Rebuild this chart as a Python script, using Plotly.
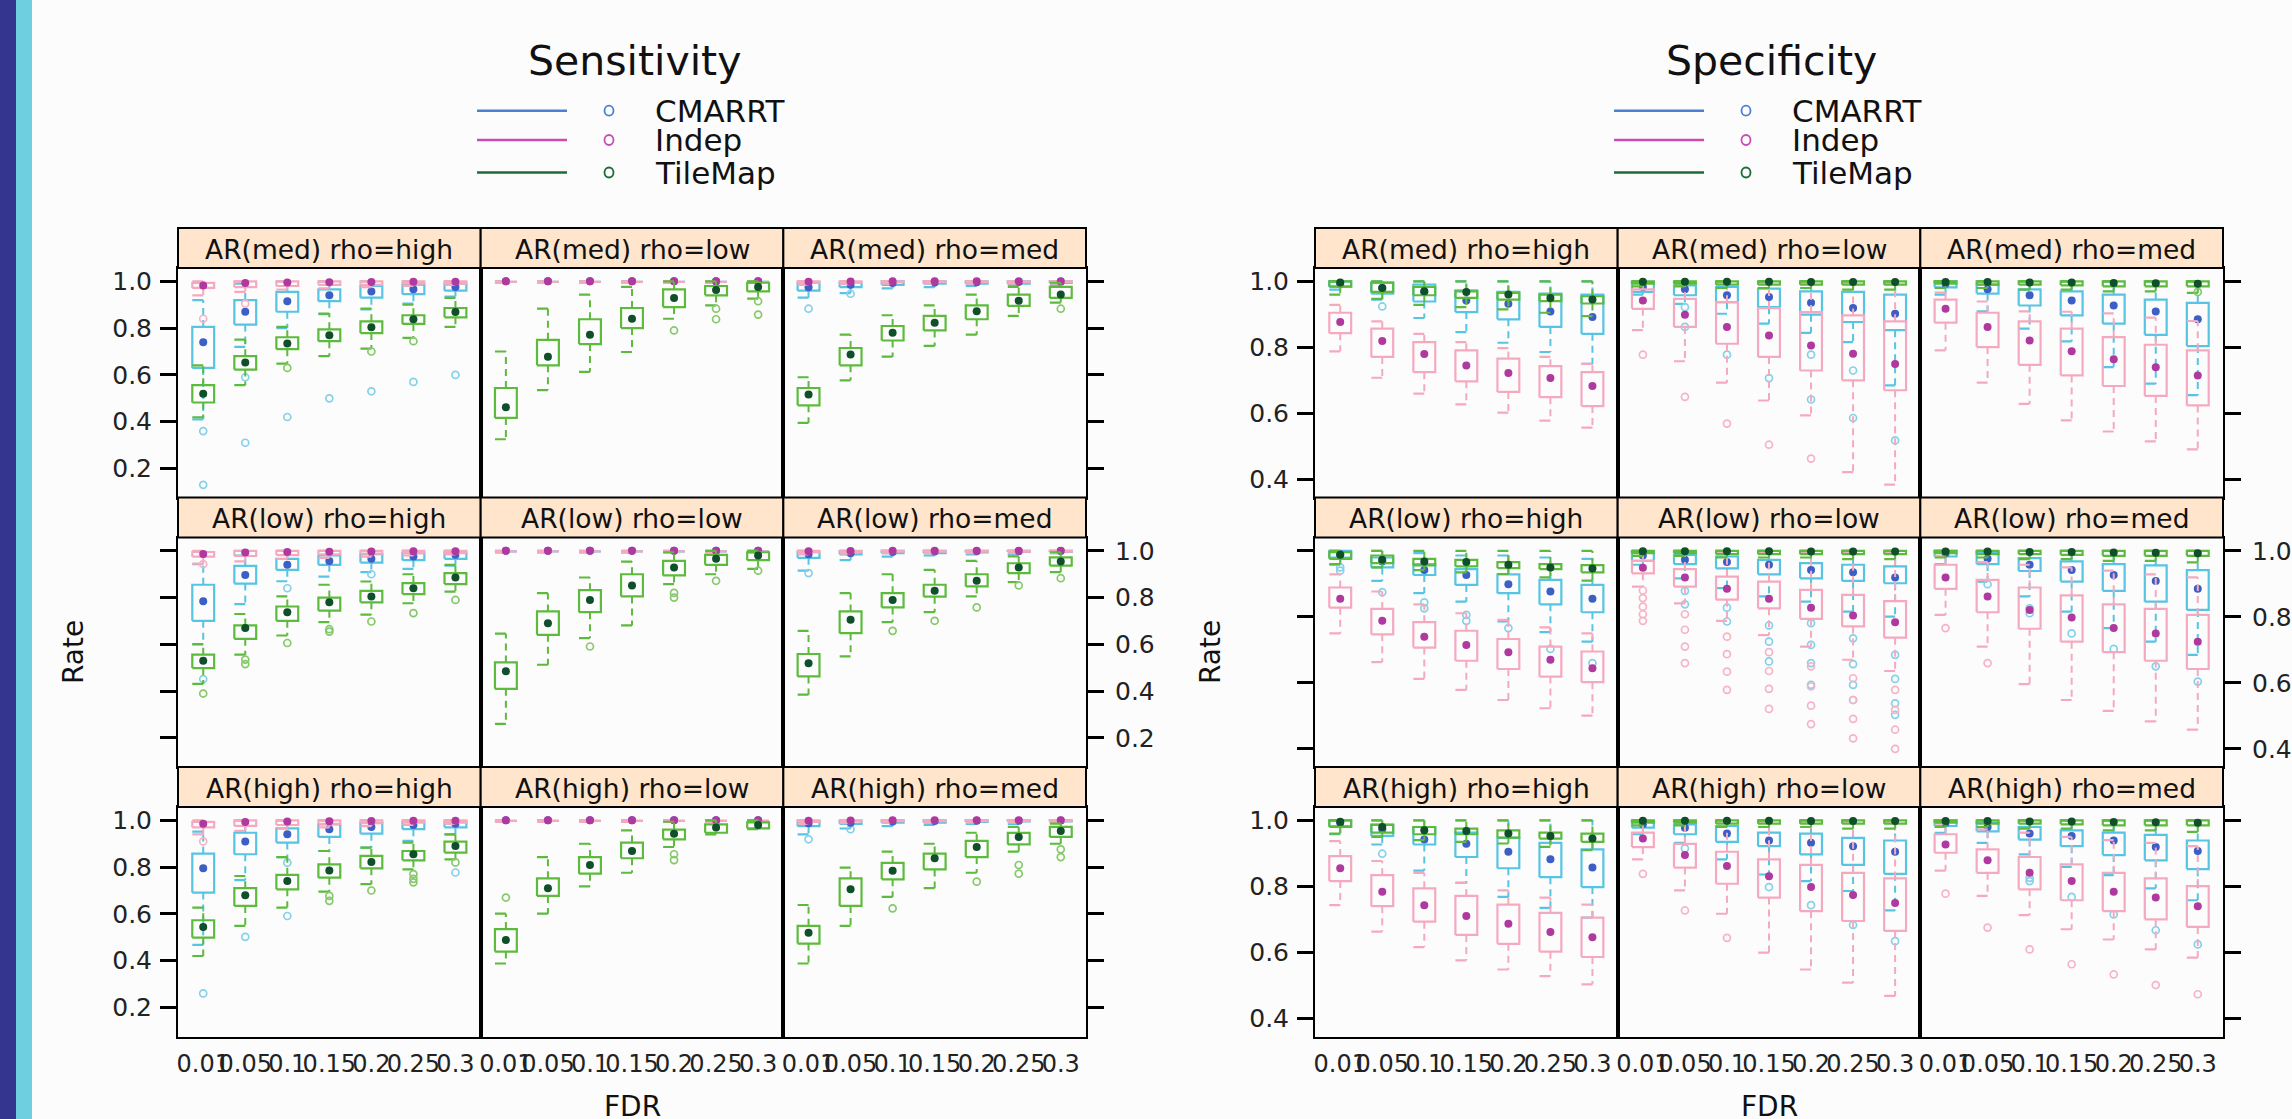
import plotly.graph_objects as go

# ---------------- data ----------------
FDR_LABELS = ["0.01", "0.05", "0.1", "0.15", "0.2", "0.25", "0.3"]
PANEL_TITLES = ["AR(med) rho=high", "AR(med) rho=low", "AR(med) rho=med",
                "AR(low) rho=high", "AR(low) rho=low", "AR(low) rho=med",
                "AR(high) rho=high", "AR(high) rho=low", "AR(high) rho=med"]
METHODS = ["CMARRT", "Indep", "TileMap"]
BLOCK_TITLES = ["Sensitivity", "Specificity"]
SENS_TICKS = [0.2, 0.4, 0.6, 0.8, 1.0]
SPEC_TICKS = [0.4, 0.6, 0.8, 1.0]

# ---- Sensitivity : CMARRT ----
SENS_CMARRT_LO = [
    [0.41, 0.72, 0.80, 0.86, 0.88, 0.905, 0.935],
    [0.993, 0.993, 0.993, 0.993, 0.993, 0.993, 0.993],
    [0.93, 0.95, 0.97, 0.975, 0.98, 0.985, 0.985],
    [0.60, 0.772, 0.87, 0.89, 0.909, 0.923, 0.937],
    [0.993, 0.993, 0.993, 0.993, 0.993, 0.993, 0.993],
    [0.915, 0.96, 0.975, 0.98, 0.985, 0.985, 0.99],
    [0.468, 0.744, 0.843, 0.869, 0.883, 0.912, 0.94],
    [0.993, 0.993, 0.993, 0.993, 0.993, 0.993, 0.993],
    [0.94, 0.965, 0.975, 0.98, 0.985, 0.985, 0.99]]
SENS_CMARRT_Q1 = [
    [0.63, 0.815, 0.87, 0.915, 0.93, 0.945, 0.96],
    [0.998, 0.998, 0.998, 0.998, 0.998, 0.998, 0.998],
    [0.96, 0.975, 0.985, 0.99, 0.99, 0.99, 0.993],
    [0.701, 0.86, 0.919, 0.94, 0.95, 0.96, 0.966],
    [0.998, 0.998, 0.998, 0.998, 0.998, 0.998, 0.998],
    [0.97, 0.985, 0.99, 0.99, 0.993, 0.995, 0.995],
    [0.691, 0.855, 0.905, 0.929, 0.943, 0.962, 0.97],
    [0.998, 0.998, 0.998, 0.998, 0.998, 0.998, 0.998],
    [0.975, 0.985, 0.99, 0.99, 0.993, 0.995, 0.995]]
SENS_CMARRT_MED = [
    [0.74, 0.87, 0.915, 0.94, 0.957, 0.966, 0.976],
    [1.0, 1.0, 1.0, 1.0, 1.0, 1.0, 1.0],
    [0.975, 0.985, 0.993, 0.995, 0.996, 0.997, 0.998],
    [0.784, 0.897, 0.94, 0.957, 0.966, 0.976, 0.983],
    [1.0, 1.0, 1.0, 1.0, 1.0, 1.0, 1.0],
    [0.985, 0.99, 0.995, 0.997, 0.998, 0.998, 0.999],
    [0.795, 0.909, 0.94, 0.962, 0.972, 0.98, 0.985],
    [1.0, 1.0, 1.0, 1.0, 1.0, 1.0, 1.0],
    [0.988, 0.99, 0.995, 0.997, 0.998, 0.998, 0.999]]
SENS_CMARRT_Q3 = [
    [0.805, 0.92, 0.955, 0.966, 0.98, 0.986, 0.99],
    [1.0, 1.0, 1.0, 1.0, 1.0, 1.0, 1.0],
    [0.995, 0.995, 1.0, 1.0, 1.0, 1.0, 1.0],
    [0.855, 0.936, 0.966, 0.98, 0.986, 0.99, 0.994],
    [1.0, 1.0, 1.0, 1.0, 1.0, 1.0, 1.0],
    [0.995, 0.998, 1.0, 1.0, 1.0, 1.0, 1.0],
    [0.858, 0.947, 0.966, 0.983, 0.989, 0.994, 0.996],
    [1.0, 1.0, 1.0, 1.0, 1.0, 1.0, 1.0],
    [0.996, 0.998, 1.0, 1.0, 1.0, 1.0, 1.0]]
SENS_CMARRT_HI = [
    [0.92, 0.99, 1.0, 1.0, 1.0, 1.0, 1.0],
    [1.0, 1.0, 1.0, 1.0, 1.0, 1.0, 1.0],
    [1.0, 1.0, 1.0, 1.0, 1.0, 1.0, 1.0],
    [0.943, 0.98, 1.0, 1.0, 1.0, 1.0, 1.0],
    [1.0, 1.0, 1.0, 1.0, 1.0, 1.0, 1.0],
    [1.0, 1.0, 1.0, 1.0, 1.0, 1.0, 1.0],
    [0.952, 1.0, 1.0, 1.0, 1.0, 1.0, 1.0],
    [1.0, 1.0, 1.0, 1.0, 1.0, 1.0, 1.0],
    [1.0, 1.0, 1.0, 1.0, 1.0, 1.0, 1.0]]
SENS_CMARRT_OUT = [
    [(0, 0.36), (0, 0.13), (1, 0.59), (1, 0.31), (2, 0.42), (3, 0.50), (4, 0.53), (5, 0.57), (6, 0.60)],
    [],
    [(0, 0.883), (1, 0.947)],
    [(0, 0.452), (2, 0.84), (4, 0.90)],
    [],
    [(0, 0.905)],
    [(0, 0.26), (1, 0.502), (2, 0.819), (2, 0.591), (6, 0.777)],
    [],
    [(0, 0.919), (1, 0.962)]]

# ---- Sensitivity : Indep ----
SENS_INDEP_LO = [
    [0.94, 0.955, 0.965, 0.97, 0.975, 0.98, 0.985],
    [0.993, 0.993, 0.993, 0.993, 0.993, 0.993, 0.993],
    [0.985, 0.988, 0.99, 0.99, 0.99, 0.99, 0.99],
    [0.945, 0.955, 0.965, 0.97, 0.975, 0.98, 0.985],
    [0.993, 0.993, 0.993, 0.993, 0.993, 0.993, 0.993],
    [0.985, 0.988, 0.99, 0.99, 0.99, 0.99, 0.99],
    [0.94, 0.955, 0.965, 0.97, 0.975, 0.98, 0.985],
    [0.993, 0.993, 0.993, 0.993, 0.993, 0.993, 0.993],
    [0.985, 0.988, 0.99, 0.99, 0.99, 0.99, 0.99]]
SENS_INDEP_Q1 = [
    [0.972, 0.975, 0.98, 0.985, 0.985, 0.99, 0.99],
    [0.998, 0.998, 0.998, 0.998, 0.998, 0.998, 0.998],
    [0.993, 0.995, 0.996, 0.996, 0.996, 0.996, 0.996],
    [0.975, 0.978, 0.982, 0.985, 0.988, 0.99, 0.99],
    [0.998, 0.998, 0.998, 0.998, 0.998, 0.998, 0.998],
    [0.993, 0.995, 0.996, 0.996, 0.996, 0.996, 0.996],
    [0.97, 0.976, 0.98, 0.985, 0.988, 0.99, 0.99],
    [0.998, 0.998, 0.998, 0.998, 0.998, 0.998, 0.998],
    [0.993, 0.995, 0.996, 0.996, 0.996, 0.996, 0.996]]
SENS_INDEP_MED = [
    [0.982, 0.993, 0.995, 0.996, 0.997, 0.998, 0.998],
    [1.0, 1.0, 1.0, 1.0, 1.0, 1.0, 1.0],
    [0.998, 0.999, 1.0, 1.0, 1.0, 1.0, 1.0],
    [0.986, 0.993, 0.995, 0.996, 0.997, 0.998, 0.998],
    [1.0, 1.0, 1.0, 1.0, 1.0, 1.0, 1.0],
    [0.998, 0.999, 1.0, 1.0, 1.0, 1.0, 1.0],
    [0.985, 0.993, 0.995, 0.996, 0.997, 0.998, 0.998],
    [1.0, 1.0, 1.0, 1.0, 1.0, 1.0, 1.0],
    [0.998, 0.999, 1.0, 1.0, 1.0, 1.0, 1.0]]
SENS_INDEP_Q3 = [
    [0.993, 1.0, 1.0, 1.0, 1.0, 1.0, 1.0],
    [1.0, 1.0, 1.0, 1.0, 1.0, 1.0, 1.0],
    [1.0, 1.0, 1.0, 1.0, 1.0, 1.0, 1.0],
    [0.995, 1.0, 1.0, 1.0, 1.0, 1.0, 1.0],
    [1.0, 1.0, 1.0, 1.0, 1.0, 1.0, 1.0],
    [1.0, 1.0, 1.0, 1.0, 1.0, 1.0, 1.0],
    [0.993, 1.0, 1.0, 1.0, 1.0, 1.0, 1.0],
    [1.0, 1.0, 1.0, 1.0, 1.0, 1.0, 1.0],
    [1.0, 1.0, 1.0, 1.0, 1.0, 1.0, 1.0]]
SENS_INDEP_HI = [
    [1.0, 1.0, 1.0, 1.0, 1.0, 1.0, 1.0],
    [1.0, 1.0, 1.0, 1.0, 1.0, 1.0, 1.0],
    [1.0, 1.0, 1.0, 1.0, 1.0, 1.0, 1.0],
    [1.0, 1.0, 1.0, 1.0, 1.0, 1.0, 1.0],
    [1.0, 1.0, 1.0, 1.0, 1.0, 1.0, 1.0],
    [1.0, 1.0, 1.0, 1.0, 1.0, 1.0, 1.0],
    [1.0, 1.0, 1.0, 1.0, 1.0, 1.0, 1.0],
    [1.0, 1.0, 1.0, 1.0, 1.0, 1.0, 1.0],
    [1.0, 1.0, 1.0, 1.0, 1.0, 1.0, 1.0]]
SENS_INDEP_OUT = [[(0, 0.84), (1, 0.905)], [], [], [(0, 0.943)], [], [], [(0, 0.91)], [], []]

# ---- Sensitivity : TileMap ----
SENS_TILE_LO = [
    [0.419, 0.556, 0.648, 0.68, 0.712, 0.758, 0.805],
    [0.325, 0.535, 0.613, 0.698, 0.84, 0.897, 0.926],
    [0.395, 0.577, 0.678, 0.724, 0.772, 0.852, 0.909],
    [0.431, 0.556, 0.638, 0.695, 0.727, 0.776, 0.826],
    [0.26, 0.513, 0.627, 0.681, 0.858, 0.90, 0.923],
    [0.385, 0.549, 0.695, 0.738, 0.805, 0.866, 0.909],
    [0.42, 0.549, 0.627, 0.695, 0.727, 0.79, 0.833],
    [0.388, 0.601, 0.718, 0.776, 0.886, 0.94, 0.962],
    [0.388, 0.549, 0.673, 0.71, 0.776, 0.866, 0.90]]
SENS_TILE_Q1 = [
    [0.482, 0.623, 0.71, 0.744, 0.779, 0.818, 0.846],
    [0.416, 0.641, 0.732, 0.80, 0.89, 0.94, 0.957],
    [0.47, 0.641, 0.747, 0.79, 0.838, 0.895, 0.929],
    [0.499, 0.624, 0.701, 0.744, 0.78, 0.815, 0.858],
    [0.41, 0.641, 0.738, 0.805, 0.895, 0.94, 0.96],
    [0.463, 0.648, 0.758, 0.804, 0.848, 0.905, 0.937],
    [0.499, 0.634, 0.705, 0.755, 0.795, 0.829, 0.862],
    [0.439, 0.677, 0.772, 0.838, 0.919, 0.947, 0.966],
    [0.473, 0.634, 0.748, 0.79, 0.843, 0.897, 0.929]]
SENS_TILE_MED = [
    [0.519, 0.653, 0.734, 0.77, 0.804, 0.838, 0.869],
    [0.462, 0.678, 0.772, 0.84, 0.929, 0.963, 0.976],
    [0.516, 0.687, 0.78, 0.823, 0.872, 0.917, 0.944],
    [0.53, 0.67, 0.738, 0.78, 0.805, 0.84, 0.886],
    [0.485, 0.69, 0.79, 0.852, 0.929, 0.966, 0.98],
    [0.52, 0.705, 0.79, 0.829, 0.872, 0.929, 0.954],
    [0.544, 0.68, 0.741, 0.786, 0.822, 0.855, 0.89],
    [0.488, 0.71, 0.809, 0.869, 0.943, 0.969, 0.98],
    [0.52, 0.705, 0.784, 0.838, 0.886, 0.929, 0.954]]
SENS_TILE_Q3 = [
    [0.556, 0.68, 0.761, 0.795, 0.829, 0.855, 0.886],
    [0.544, 0.75, 0.838, 0.886, 0.966, 0.98, 0.994],
    [0.544, 0.715, 0.809, 0.852, 0.897, 0.943, 0.976],
    [0.556, 0.681, 0.762, 0.80, 0.829, 0.862, 0.905],
    [0.523, 0.741, 0.832, 0.90, 0.957, 0.983, 0.994],
    [0.559, 0.741, 0.819, 0.855, 0.90, 0.947, 0.972],
    [0.573, 0.71, 0.767, 0.812, 0.848, 0.869, 0.909],
    [0.535, 0.752, 0.843, 0.905, 0.96, 0.983, 0.991],
    [0.549, 0.752, 0.818, 0.858, 0.912, 0.946, 0.972]]
SENS_TILE_HI = [
    [0.641, 0.751, 0.805, 0.862, 0.883, 0.90, 0.929],
    [0.70, 0.883, 0.943, 0.976, 1.0, 1.0, 1.0],
    [0.59, 0.772, 0.855, 0.897, 0.943, 0.976, 0.994],
    [0.601, 0.73, 0.805, 0.855, 0.869, 0.90, 0.94],
    [0.646, 0.819, 0.886, 0.954, 0.994, 1.0, 1.0],
    [0.658, 0.819, 0.90, 0.919, 0.957, 0.976, 0.994],
    [0.627, 0.762, 0.843, 0.869, 0.883, 0.905, 0.94],
    [0.601, 0.843, 0.90, 0.957, 0.994, 1.0, 1.0],
    [0.638, 0.798, 0.866, 0.90, 0.947, 0.972, 0.986]]
SENS_TILE_OUT = [
    [(2, 0.63), (4, 0.70), (5, 0.744)],
    [(4, 0.79), (5, 0.883), (5, 0.838), (6, 0.915), (6, 0.858)],
    [(6, 0.883)],
    [(0, 0.39), (1, 0.535), (1, 0.516), (2, 0.606), (3, 0.665), (3, 0.655), (4, 0.698), (5, 0.734), (6, 0.79)],
    [(2, 0.591), (4, 0.82), (4, 0.80), (5, 0.872), (6, 0.915)],
    [(2, 0.658), (3, 0.701), (4, 0.758), (5, 0.852), (6, 0.883)],
    [(3, 0.677), (3, 0.656), (4, 0.70), (5, 0.77), (5, 0.75), (5, 0.735), (6, 0.82)],
    [(0, 0.67), (4, 0.855), (4, 0.83)],
    [(2, 0.624), (4, 0.738), (5, 0.809), (5, 0.772), (6, 0.876), (6, 0.843)]]

# ---- Specificity : CMARRT ----
SPEC_CMARRT_LO = [
    [0.975, 0.945, 0.889, 0.846, 0.814, 0.786, 0.75],
    [0.96, 0.932, 0.902, 0.872, 0.844, 0.816, 0.685],
    [0.96, 0.909, 0.857, 0.818, 0.74, 0.69, 0.655],
    [0.958, 0.909, 0.872, 0.846, 0.786, 0.754, 0.725],
    [0.958, 0.917, 0.887, 0.862, 0.846, 0.816, 0.801],
    [0.96, 0.907, 0.862, 0.816, 0.766, 0.725, 0.685],
    [0.958, 0.927, 0.848, 0.811, 0.768, 0.735, 0.705],
    [0.958, 0.932, 0.882, 0.836, 0.816, 0.786, 0.727],
    [0.962, 0.932, 0.897, 0.859, 0.834, 0.794, 0.758]]
SPEC_CMARRT_Q1 = [
    [0.983, 0.963, 0.939, 0.907, 0.885, 0.862, 0.841],
    [0.968, 0.958, 0.937, 0.922, 0.899, 0.877, 0.852],
    [0.982, 0.963, 0.927, 0.897, 0.872, 0.838, 0.804],
    [0.98, 0.95, 0.927, 0.897, 0.872, 0.838, 0.814],
    [0.97, 0.96, 0.947, 0.929, 0.917, 0.909, 0.902],
    [0.983, 0.96, 0.939, 0.907, 0.879, 0.846, 0.821],
    [0.983, 0.953, 0.927, 0.889, 0.855, 0.828, 0.798],
    [0.978, 0.958, 0.935, 0.922, 0.897, 0.865, 0.838],
    [0.983, 0.967, 0.942, 0.922, 0.895, 0.879, 0.852]]
SPEC_CMARRT_MED = [
    [0.993, 0.98, 0.968, 0.942, 0.932, 0.909, 0.892],
    [0.983, 0.976, 0.958, 0.953, 0.935, 0.919, 0.902],
    [0.993, 0.976, 0.958, 0.942, 0.927, 0.909, 0.885],
    [0.99, 0.968, 0.942, 0.927, 0.899, 0.877, 0.855],
    [0.986, 0.973, 0.966, 0.958, 0.942, 0.935, 0.919],
    [0.993, 0.976, 0.958, 0.942, 0.927, 0.909, 0.885],
    [0.993, 0.973, 0.942, 0.929, 0.905, 0.882, 0.857],
    [0.988, 0.978, 0.96, 0.939, 0.932, 0.922, 0.905],
    [0.993, 0.98, 0.96, 0.953, 0.939, 0.919, 0.907]]
SPEC_CMARRT_Q3 = [
    [1.0, 0.996, 0.99, 0.973, 0.968, 0.963, 0.96],
    [0.996, 0.988, 0.983, 0.978, 0.97, 0.968, 0.96],
    [1.0, 0.99, 0.976, 0.97, 0.96, 0.945, 0.935],
    [1.0, 0.98, 0.96, 0.945, 0.929, 0.912, 0.897],
    [0.996, 0.988, 0.983, 0.973, 0.963, 0.958, 0.953],
    [1.0, 0.996, 0.978, 0.968, 0.96, 0.956, 0.942],
    [1.0, 0.988, 0.98, 0.963, 0.947, 0.932, 0.912],
    [0.998, 0.988, 0.983, 0.963, 0.96, 0.947, 0.939],
    [1.0, 0.993, 0.98, 0.97, 0.963, 0.956, 0.939]]
SPEC_CMARRT_HI = [
    [1.0, 1.0, 1.0, 1.0, 1.0, 1.0, 1.0],
    [1.0, 1.0, 1.0, 1.0, 1.0, 1.0, 1.0],
    [1.0, 1.0, 1.0, 1.0, 1.0, 1.0, 1.0],
    [1.0, 1.0, 0.993, 0.986, 0.986, 0.98, 0.976],
    [1.0, 1.0, 1.0, 1.0, 1.0, 1.0, 1.0],
    [1.0, 1.0, 1.0, 1.0, 1.0, 1.0, 1.0],
    [1.0, 1.0, 1.0, 1.0, 1.0, 1.0, 1.0],
    [1.0, 1.0, 1.0, 1.0, 1.0, 1.0, 1.0],
    [1.0, 1.0, 1.0, 1.0, 1.0, 1.0, 1.0]]
SPEC_CMARRT_OUT = [
    [(1, 0.924)],
    [(1, 0.922), (1, 0.862), (2, 0.778), (3, 0.707), (4, 0.778), (4, 0.642), (5, 0.73), (5, 0.586), (6, 0.518)],
    [],
    [(0, 0.95), (0, 0.94), (1, 0.875), (2, 0.844), (2, 0.826), (3, 0.806), (3, 0.788), (4, 0.766), (5, 0.703), (6, 0.66)],
    [(1, 0.879), (1, 0.838), (2, 0.828), (2, 0.786), (3, 0.774), (3, 0.725), (3, 0.665), (4, 0.781), (4, 0.715),
     (4, 0.66), (4, 0.594), (5, 0.735), (5, 0.657), (5, 0.594), (5, 0.548), (6, 0.685), (6, 0.612), (6, 0.538), (6, 0.503)],
    [(1, 0.899), (2, 0.826), (2, 0.811), (3, 0.75), (4, 0.703), (5, 0.65), (6, 0.604)],
    [(1, 0.899)],
    [(1, 0.915), (3, 0.798), (4, 0.743), (5, 0.683), (6, 0.634)],
    [(2, 0.826), (2, 0.816), (3, 0.768), (4, 0.715), (5, 0.667), (6, 0.624)]]

# ---- Specificity : Indep ----
SPEC_INDEP_LO = [
    [0.788, 0.708, 0.66, 0.627, 0.602, 0.578, 0.557],
    [0.852, 0.758, 0.693, 0.639, 0.594, 0.422, 0.384],
    [0.791, 0.693, 0.629, 0.579, 0.545, 0.515, 0.491],
    [0.75, 0.663, 0.612, 0.579, 0.548, 0.523, 0.501],
    [0.892, 0.841, 0.788, 0.745, 0.71, 0.67, 0.636],
    [0.806, 0.71, 0.596, 0.548, 0.515, 0.483, 0.458],
    [0.743, 0.663, 0.616, 0.576, 0.548, 0.528, 0.503],
    [0.882, 0.788, 0.717, 0.599, 0.548, 0.508, 0.468],
    [0.848, 0.771, 0.713, 0.67, 0.639, 0.609, 0.584]]
SPEC_INDEP_Q1 = [
    [0.843, 0.771, 0.725, 0.697, 0.665, 0.649, 0.622],
    [0.917, 0.862, 0.811, 0.771, 0.73, 0.70, 0.67],
    [0.875, 0.801, 0.747, 0.715, 0.683, 0.653, 0.624],
    [0.828, 0.747, 0.707, 0.667, 0.642, 0.619, 0.602],
    [0.932, 0.892, 0.852, 0.826, 0.794, 0.771, 0.737],
    [0.885, 0.814, 0.764, 0.725, 0.693, 0.667, 0.642],
    [0.816, 0.74, 0.693, 0.653, 0.626, 0.602, 0.586],
    [0.919, 0.857, 0.808, 0.766, 0.725, 0.695, 0.665],
    [0.902, 0.841, 0.791, 0.758, 0.725, 0.70, 0.677]]
SPEC_INDEP_MED = [
    [0.877, 0.819, 0.78, 0.745, 0.722, 0.707, 0.683],
    [0.942, 0.899, 0.862, 0.836, 0.806, 0.781, 0.75],
    [0.917, 0.862, 0.821, 0.788, 0.764, 0.74, 0.715],
    [0.855, 0.788, 0.74, 0.715, 0.693, 0.67, 0.644],
    [0.949, 0.919, 0.885, 0.855, 0.828, 0.804, 0.784],
    [0.919, 0.862, 0.821, 0.798, 0.766, 0.75, 0.725],
    [0.855, 0.784, 0.743, 0.71, 0.687, 0.662, 0.646],
    [0.945, 0.895, 0.862, 0.831, 0.798, 0.774, 0.75],
    [0.927, 0.879, 0.841, 0.816, 0.784, 0.766, 0.74]]
SPEC_INDEP_Q3 = [
    [0.905, 0.857, 0.816, 0.791, 0.766, 0.743, 0.725],
    [0.976, 0.947, 0.937, 0.919, 0.907, 0.897, 0.879],
    [0.945, 0.905, 0.879, 0.857, 0.831, 0.808, 0.791],
    [0.889, 0.824, 0.784, 0.758, 0.733, 0.71, 0.695],
    [0.97, 0.945, 0.922, 0.907, 0.882, 0.867, 0.848],
    [0.958, 0.912, 0.889, 0.865, 0.838, 0.824, 0.806],
    [0.892, 0.834, 0.794, 0.771, 0.745, 0.72, 0.705],
    [0.963, 0.929, 0.905, 0.882, 0.865, 0.841, 0.824],
    [0.958, 0.912, 0.889, 0.867, 0.841, 0.824, 0.801]]
SPEC_INDEP_HI = [
    [0.929, 0.879, 0.841, 0.816, 0.798, 0.771, 0.75],
    [0.996, 0.988, 0.996, 0.996, 0.996, 0.996, 0.996],
    [0.966, 0.939, 0.909, 0.908, 0.903, 0.89, 0.88],
    [0.929, 0.877, 0.838, 0.811, 0.791, 0.768, 0.75],
    [0.996, 0.996, 0.996, 0.996, 0.996, 0.996, 0.996],
    [0.983, 0.966, 0.958, 0.95, 0.94, 0.929, 0.92],
    [0.937, 0.877, 0.841, 0.811, 0.788, 0.766, 0.745],
    [0.996, 0.996, 0.996, 0.996, 0.996, 0.996, 0.996],
    [0.99, 0.973, 0.963, 0.95, 0.94, 0.932, 0.922]]
SPEC_INDEP_OUT = [
    [],
    [(0, 0.778), (1, 0.65), (2, 0.569), (3, 0.505), (4, 0.463)],
    [],
    [],
    [(0, 0.88), (0, 0.857), (0, 0.831), (0, 0.808), (0, 0.788),
     (1, 0.808), (1, 0.761), (1, 0.71), (1, 0.66),
     (2, 0.74), (2, 0.687), (2, 0.634), (2, 0.579),
     (3, 0.693), (3, 0.636), (3, 0.582), (3, 0.521),
     (4, 0.65), (4, 0.589), (4, 0.531), (4, 0.475),
     (5, 0.614), (5, 0.548), (5, 0.491), (5, 0.432),
     (6, 0.579), (6, 0.518), (6, 0.458), (6, 0.40)],
    [(0, 0.766), (1, 0.66)],
    [],
    [(0, 0.838), (1, 0.727), (2, 0.644)],
    [(0, 0.778), (1, 0.675), (2, 0.609), (3, 0.564), (4, 0.533), (5, 0.501), (6, 0.473)]]

# ---- Specificity : TileMap ----
SPEC_TILE_LO = [
    [0.96, 0.947, 0.929, 0.922, 0.915, 0.905, 0.895],
    [0.985, 0.985, 0.98, 0.98, 0.98, 0.975, 0.975],
    [0.98, 0.98, 0.975, 0.975, 0.97, 0.97, 0.965],
    [0.96, 0.95, 0.942, 0.935, 0.93, 0.92, 0.91],
    [0.985, 0.985, 0.98, 0.98, 0.98, 0.975, 0.975],
    [0.98, 0.98, 0.975, 0.975, 0.97, 0.97, 0.965],
    [0.96, 0.95, 0.94, 0.935, 0.93, 0.92, 0.91],
    [0.985, 0.985, 0.98, 0.98, 0.98, 0.975, 0.975],
    [0.98, 0.98, 0.975, 0.975, 0.97, 0.97, 0.965]]
SPEC_TILE_Q1 = [
    [0.985, 0.968, 0.958, 0.95, 0.945, 0.94, 0.933],
    [0.993, 0.993, 0.99, 0.99, 0.99, 0.99, 0.99],
    [0.993, 0.99, 0.99, 0.988, 0.985, 0.985, 0.985],
    [0.976, 0.963, 0.956, 0.953, 0.948, 0.945, 0.935],
    [0.993, 0.993, 0.99, 0.99, 0.99, 0.99, 0.99],
    [0.993, 0.99, 0.99, 0.988, 0.985, 0.985, 0.985],
    [0.98, 0.963, 0.958, 0.958, 0.948, 0.945, 0.935],
    [0.993, 0.993, 0.99, 0.99, 0.99, 0.99, 0.99],
    [0.993, 0.99, 0.99, 0.988, 0.985, 0.985, 0.985]]
SPEC_TILE_MED = [
    [0.997, 0.98, 0.97, 0.968, 0.96, 0.95, 0.945],
    [0.999, 0.999, 0.999, 0.999, 0.998, 0.998, 0.998],
    [0.998, 0.998, 0.997, 0.997, 0.995, 0.994, 0.993],
    [0.988, 0.973, 0.968, 0.966, 0.958, 0.95, 0.947],
    [0.999, 0.999, 0.999, 0.999, 0.998, 0.998, 0.998],
    [0.998, 0.998, 0.997, 0.997, 0.995, 0.994, 0.993],
    [0.996, 0.98, 0.97, 0.968, 0.96, 0.953, 0.945],
    [0.999, 0.999, 0.999, 0.999, 0.998, 0.998, 0.998],
    [0.998, 0.998, 0.997, 0.997, 0.995, 0.994, 0.993]]
SPEC_TILE_Q3 = [
    [1.0, 0.996, 0.983, 0.97, 0.965, 0.96, 0.955],
    [1.0, 1.0, 1.0, 1.0, 1.0, 1.0, 1.0],
    [1.0, 1.0, 1.0, 1.0, 1.0, 1.0, 1.0],
    [0.996, 0.986, 0.976, 0.973, 0.966, 0.96, 0.957],
    [1.0, 1.0, 1.0, 1.0, 1.0, 1.0, 1.0],
    [1.0, 1.0, 1.0, 1.0, 1.0, 1.0, 1.0],
    [1.0, 0.986, 0.98, 0.975, 0.97, 0.963, 0.96],
    [1.0, 1.0, 1.0, 1.0, 1.0, 1.0, 1.0],
    [1.0, 1.0, 1.0, 1.0, 1.0, 1.0, 1.0]]
SPEC_TILE_HI = [
    [1.0, 1.0, 1.0, 1.0, 1.0, 1.0, 1.0],
    [1.0, 1.0, 1.0, 1.0, 1.0, 1.0, 1.0],
    [1.0, 1.0, 1.0, 1.0, 1.0, 1.0, 1.0],
    [1.0, 1.0, 1.0, 1.0, 1.0, 1.0, 1.0],
    [1.0, 1.0, 1.0, 1.0, 1.0, 1.0, 1.0],
    [1.0, 1.0, 1.0, 1.0, 1.0, 1.0, 1.0],
    [1.0, 1.0, 1.0, 1.0, 1.0, 1.0, 1.0],
    [1.0, 1.0, 1.0, 1.0, 1.0, 1.0, 1.0],
    [1.0, 1.0, 1.0, 1.0, 1.0, 1.0, 1.0]]
SPEC_TILE_OUT = [[], [], [(6, 0.968)], [], [], [], [], [], []]

# ---------------- styling ----------------
W, H = 2292, 1119
FONT = "DejaVu Sans"
BOX_COL = ["#56c4e2", "#f5a9bf", "#5cba3c"]
MED_COL = ["#3b5fc4", "#b0399f", "#0f4f2a"]
OUT_COL = ["#86d0ea", "#f7b3c6", "#86c96a"]
LEG_COL = ["#4a7fd4", "#c84cb4", "#1c6b3a"]
BG = "#fcfcfc"
STRIP_BG = "#ffe5cc"

BLOCK_LEFT = [178, 1315]
PANEL_W = 908 / 3
STRIP_TOP = [228, 497.5, 767]
STRIP_H = 40
ROW_H = 269.5
Y_RANGES = [[0.076, 1.057], [0.345, 1.0406]]
BOX_HALF = 0.26

blocks = [
    [[SENS_CMARRT_LO, SENS_CMARRT_Q1, SENS_CMARRT_MED, SENS_CMARRT_Q3, SENS_CMARRT_HI, SENS_CMARRT_OUT],
     [SENS_INDEP_LO, SENS_INDEP_Q1, SENS_INDEP_MED, SENS_INDEP_Q3, SENS_INDEP_HI, SENS_INDEP_OUT],
     [SENS_TILE_LO, SENS_TILE_Q1, SENS_TILE_MED, SENS_TILE_Q3, SENS_TILE_HI, SENS_TILE_OUT]],
    [[SPEC_CMARRT_LO, SPEC_CMARRT_Q1, SPEC_CMARRT_MED, SPEC_CMARRT_Q3, SPEC_CMARRT_HI, SPEC_CMARRT_OUT],
     [SPEC_INDEP_LO, SPEC_INDEP_Q1, SPEC_INDEP_MED, SPEC_INDEP_Q3, SPEC_INDEP_HI, SPEC_INDEP_OUT],
     [SPEC_TILE_LO, SPEC_TILE_Q1, SPEC_TILE_MED, SPEC_TILE_Q3, SPEC_TILE_HI, SPEC_TILE_OUT]]]
TICKS = [SENS_TICKS, SPEC_TICKS]


def fx(px):
    return px / W


def fy(py):
    return 1 - py / H


fig = go.Figure()
layout = dict(width=W, height=H, margin=dict(l=0, r=0, t=0, b=0),
              paper_bgcolor=BG, plot_bgcolor=BG, showlegend=False,
              font=dict(family=FONT, color="#111111"))
shapes = []
annotations = []

cats = list(range(1, len(FDR_LABELS) + 1))

for b in range(2):
    for p in range(9):
        r, c = divmod(p, 3)
        idx = b * 9 + p + 1
        sfx = "" if idx == 1 else str(idx)
        xref, yref = "x" + sfx, "y" + sfx
        left = BLOCK_LEFT[b] + c * PANEL_W
        right = left + PANEL_W
        top = STRIP_TOP[r] + STRIP_H
        bottom = STRIP_TOP[r] + ROW_H

        for m in range(3):
            lo, q1, md, q3, hi, outs = [blocks[b][m][k][p] for k in range(6)]
            bx, by, wx, wy, cx, cy = [], [], [], [], [], []
            for i, xc in enumerate(cats):
                bx += [xc - BOX_HALF, xc + BOX_HALF, xc + BOX_HALF, xc - BOX_HALF, xc - BOX_HALF, None]
                by += [q1[i], q1[i], q3[i], q3[i], q1[i], None]
                wx += [xc, xc, None, xc, xc, None]
                wy += [q3[i], hi[i], None, q1[i], lo[i], None]
                cx += [xc - BOX_HALF, xc, None, xc - BOX_HALF, xc, None]
                cy += [hi[i], hi[i], None, lo[i], lo[i], None]
            fig.add_trace(go.Scatter(x=wx, y=wy, mode="lines", xaxis=xref, yaxis=yref,
                                     line=dict(color=BOX_COL[m], width=2, dash="7px,5px"),
                                     hoverinfo="skip"))
            fig.add_trace(go.Scatter(x=cx, y=cy, mode="lines", xaxis=xref, yaxis=yref,
                                     line=dict(color=BOX_COL[m], width=2.2), hoverinfo="skip"))
            fig.add_trace(go.Scatter(x=bx, y=by, mode="lines", xaxis=xref, yaxis=yref,
                                     line=dict(color=BOX_COL[m], width=2.2), hoverinfo="skip"))
            if outs:
                fig.add_trace(go.Scatter(x=[cats[o[0]] for o in outs], y=[o[1] for o in outs],
                                         mode="markers", xaxis=xref, yaxis=yref,
                                         marker=dict(symbol="circle-open", size=7, color=OUT_COL[m],
                                                     line=dict(width=1.7, color=OUT_COL[m]))))
            fig.add_trace(go.Scatter(x=cats, y=md, mode="markers", xaxis=xref, yaxis=yref,
                                     marker=dict(symbol="circle", size=8, color=MED_COL[m])))

        ax_common = dict(showline=True, mirror=True, linecolor="black", linewidth=2,
                         showgrid=False, zeroline=False)
        layout["xaxis" + sfx] = dict(
            domain=[fx(left), fx(right)], range=[0.4, 7.6], anchor=yref,
            tickmode="array", tickvals=cats, ticktext=FDR_LABELS, ticks="", tickangle=0,
            showticklabels=(r == 2), tickfont=dict(size=24, color="#222222", family=FONT),
            ticklabelstandoff=5, **ax_common)
        ydict = dict(domain=[fy(bottom), fy(top)], range=Y_RANGES[b], anchor=xref,
                     tickmode="array", tickvals=TICKS[b], ticktext=["%.1f" % t for t in TICKS[b]],
                     tickfont=dict(size=25, color="#222222", family=FONT), **ax_common)
        if c == 0:
            ydict.update(side="left", ticks="outside", ticklen=16, tickwidth=2.5,
                         tickcolor="black", showticklabels=(r != 1), ticklabelstandoff=3)
        elif c == 2:
            ydict.update(side="right", ticks="outside", ticklen=16, tickwidth=2.5,
                         tickcolor="black", showticklabels=(r == 1), ticklabelstandoff=6)
        else:
            ydict.update(ticks="", showticklabels=False)
        layout["yaxis" + sfx] = ydict

        # strip
        shapes.append(dict(type="rect", xref="paper", yref="paper",
                           x0=fx(left), x1=fx(right), y0=fy(top), y1=fy(STRIP_TOP[r]),
                           fillcolor=STRIP_BG, line=dict(color="black", width=2), layer="above"))
        annotations.append(dict(text=PANEL_TITLES[p], xref="paper", yref="paper",
                                x=fx((left + right) / 2), y=fy(STRIP_TOP[r] + STRIP_H / 2 + 1),
                                xanchor="center", yanchor="middle", showarrow=False,
                                font=dict(size=26.5, color="#111111", family=FONT)))

    # block title, legend, axis titles
    L = BLOCK_LEFT[b]
    cxm = L + 454
    annotations.append(dict(text=BLOCK_TITLES[b], xref="paper", yref="paper",
                            x=fx(cxm + 2), y=fy(61), xanchor="center", yanchor="middle",
                            showarrow=False, font=dict(size=41, color="#111111", family=FONT)))
    for m, (name, ly) in enumerate(zip(METHODS, [110.7, 140, 172.5])):
        shapes.append(dict(type="line", xref="paper", yref="paper",
                           x0=fx(L + 299), x1=fx(L + 389), y0=fy(ly), y1=fy(ly),
                           line=dict(color=LEG_COL[m], width=2.5)))
        shapes.append(dict(type="circle", xref="paper", yref="paper",
                           x0=fx(L + 431 - 4.5), x1=fx(L + 431 + 4.5), y0=fy(ly + 5), y1=fy(ly - 5),
                           line=dict(color=LEG_COL[m], width=1.8)))
        annotations.append(dict(text=name, xref="paper", yref="paper",
                                x=fx(L + 475), y=fy(ly), xanchor="left", yanchor="middle",
                                showarrow=False, font=dict(size=31, color="#111111", family=FONT)))
    annotations.append(dict(text="Rate", xref="paper", yref="paper", textangle=-90,
                            x=fx(L - 105), y=fy(652), xanchor="center", yanchor="middle",
                            showarrow=False, font=dict(size=28, color="#111111", family=FONT)))
    annotations.append(dict(text="FDR", xref="paper", yref="paper",
                            x=fx(cxm), y=fy(1106), xanchor="center", yanchor="middle",
                            showarrow=False, font=dict(size=28, color="#111111", family=FONT)))

# decorative side bands
shapes.append(dict(type="rect", xref="paper", yref="paper", x0=0, x1=fx(16), y0=0, y1=1,
                   fillcolor="#33358f", line=dict(width=0), layer="below"))
shapes.append(dict(type="rect", xref="paper", yref="paper", x0=fx(16), x1=fx(32), y0=0, y1=1,
                   fillcolor="#6ecfe0", line=dict(width=0), layer="below"))

layout["shapes"] = shapes
layout["annotations"] = annotations
fig.update_layout(**layout)

fig.write_html("out.html", config={"displayModeBar": False},
               post_script="document.body.style.margin='0';document.body.style.overflow='hidden';")
